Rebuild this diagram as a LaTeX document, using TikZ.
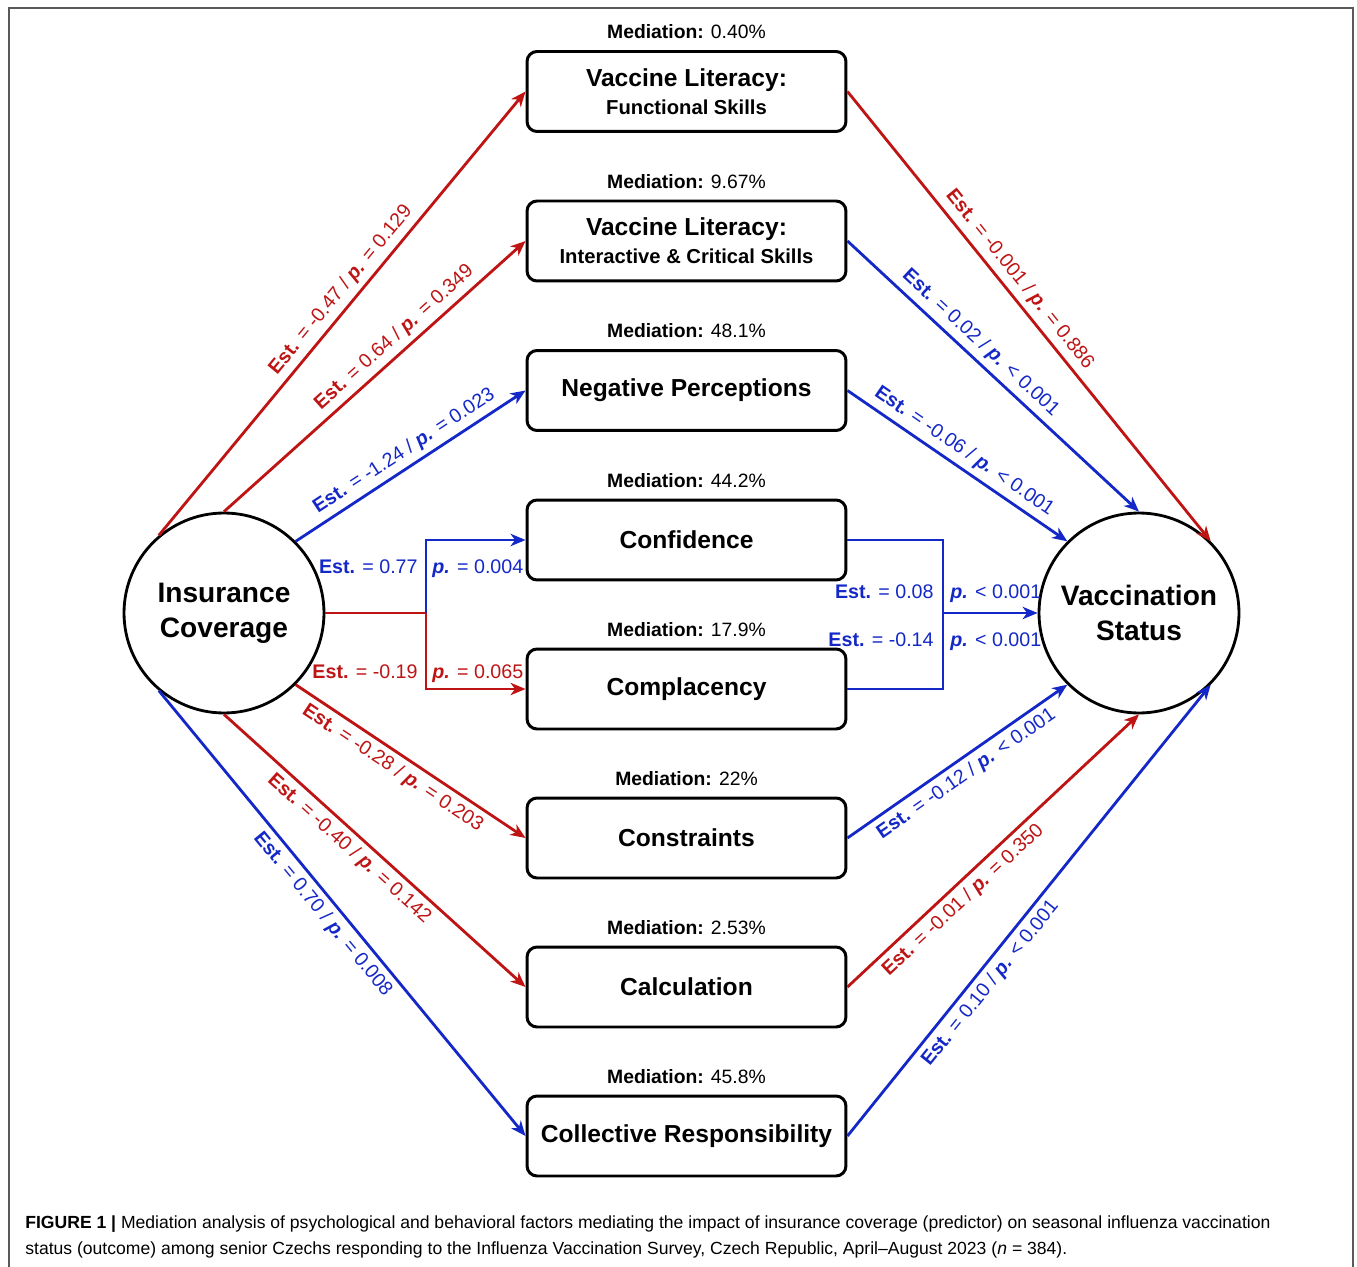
\documentclass[tikz,border=0pt]{standalone}
\usepackage{fontspec}
\setmainfont{Liberation Sans}
\usetikzlibrary{arrows.meta,positioning}

\definecolor{effred}{RGB}{190,20,20}
\definecolor{effblue}{RGB}{20,40,200}

\newcommand{\estp}[2]{\textbf{Est.} = #1 / \textbf{\textit{p.}} #2}
\newcommand{\medlab}[1]{\textbf{Mediation:} #1}

\tikzset{
  factor/.style={draw, line width=1.7pt, rounded corners=0.2cm, minimum width=6.38cm,
    minimum height=1.6cm, inner sep=0pt, align=center,
    font=\fontsize{14pt}{17pt}\selectfont\bfseries},
  var/.style={draw, circle, line width=1.6pt, minimum size=4cm, inner sep=0pt, align=center,
    font=\fontsize{16pt}{20pt}\selectfont\bfseries},
  med/.style={inner sep=0pt, font=\fontsize{11pt}{13pt}\selectfont},
  lab/.style={inner sep=3pt, font=\fontsize{11.2pt}{13pt}\selectfont},
  sig/.style={effblue, line width=1.6pt},
  nonsig/.style={effred, line width=1.6pt},
  tip/.style={-{Stealth[length=8.5pt,width=7pt,inset=2.5pt]}}
}

\begin{document}
\begin{tikzpicture}[x=0.02cm,y=-0.02cm]

  \useasboundingbox (0,0) rectangle (1357,1267);
  \draw[black!65, line width=0.8pt] (9,1267) -- (9,8) -- (1353,8) -- (1353,1267);

  % predictor and outcome
  \node[var] (ic) at (224,613) {Insurance\\Coverage};
  \node[var] (vs) at (1139,613) {Vaccination\\Status};

  % mediators
  \node[factor] (vlf) at (686.5,91.5) {Vaccine Literacy:\\[-1pt]{\fontsize{11.5pt}{14pt}\selectfont Functional Skills}};
  \node[factor] (vli) at (686.5,241) {Vaccine Literacy:\\[-1pt]{\fontsize{11.5pt}{14pt}\selectfont Interactive \& Critical Skills}};
  \node[factor] (neg) at (686.5,390.5) {Negative Perceptions};
  \node[factor] (conf) at (686.5,540) {Confidence};
  \node[factor] (compl) at (686.5,689) {Complacency};
  \node[factor] (constr) at (686.5,838) {Constraints};
  \node[factor] (calc) at (686.5,987) {Calculation};
  \node[factor] (coll) at (686.5,1136) {Collective Responsibility};

  \node[med, above=6pt of vlf] (m1) {\medlab{0.40\%}};
  \node[med, above=6pt of vli] (m2) {\medlab{9.67\%}};
  \node[med, above=6pt of neg] (m3) {\medlab{48.1\%}};
  \node[med, above=6pt of conf] (m4) {\medlab{44.2\%}};
  \node[med, above=6pt of compl] (m5) {\medlab{17.9\%}};
  \node[med, above=6pt of constr] (m6) {\medlab{22\%}};
  \node[med, above=6pt of calc] (m7) {\medlab{2.53\%}};
  \node[med, above=6pt of coll] (m8) {\medlab{45.8\%}};

  % a paths
  \draw[nonsig, tip] (ic.130) -- node[lab, sloped, above, pos=.53] (a1) {\estp{-0.47}{= 0.129}} (vlf.west);
  \draw[nonsig, tip] (ic.north) -- node[lab, sloped, above, pos=.6] (a2) {\estp{0.64}{= 0.349}} (vli.west);
  \draw[sig, tip] (ic.45) -- node[lab, sloped, above, pos=.51] (a3) {\estp{-1.24}{= 0.023}} (neg.west);
  \draw[nonsig, tip] (ic.-45) -- node[lab, sloped, below, pos=.46] (a6) {\estp{-0.28}{= 0.203}} (constr.west);
  \draw[nonsig, tip] (ic.south) -- node[lab, sloped, below, pos=.45] (a7) {\estp{-0.40}{= 0.142}} (calc.west);
  \draw[sig, tip] (ic.-130) -- node[lab, sloped, below, pos=.48] (a8) {\estp{0.70}{= 0.008}} (coll.west);

  \coordinate (jl) at (426,613);
  \draw[nonsig] (ic.east) -- (jl);
  \draw[sig, tip] (jl) |- (conf.west);
  \draw[nonsig, tip] (jl) |- (compl.west);
  \node[lab, effblue, inner sep=0pt, anchor=base east] (a4) at (418,573) {\textbf{Est.} = 0.77};
  \node[lab, effblue, inner sep=0pt, anchor=base west] (a4p) at (432,573) {\textbf{\textit{p.}} = 0.004};
  \node[lab, effred, inner sep=0pt, anchor=base east] (a5) at (418,678) {\textbf{Est.} = -0.19};
  \node[lab, effred, inner sep=0pt, anchor=base west] (a5p) at (432,678) {\textbf{\textit{p.}} = 0.065};

  % b paths
  \draw[nonsig, tip] (vlf.east) -- node[lab, sloped, above, pos=.44] (b1) {\estp{-0.001}{= 0.886}} (vs.45);
  \draw[sig, tip] (vli.east) -- node[lab, sloped, above, pos=.42] (b2) {\estp{0.02}{< 0.001}} (vs.north);
  \draw[sig, tip] (neg.east) -- node[lab, sloped, above, pos=.49] (b3) {\estp{-0.06}{< 0.001}} (vs.135);
  \draw[sig, tip] (constr.east) -- node[lab, sloped, below, pos=.5] (b6) {\estp{-0.12}{< 0.001}} (vs.-135);
  \draw[nonsig, tip] (calc.east) -- node[lab, sloped, below, pos=.36] (b7) {\estp{-0.01}{= 0.350}} (vs.south);
  \draw[sig, tip] (coll.east) -- node[lab, sloped, below, pos=.36] (b8) {\estp{0.10}{< 0.001}} (vs.-45);

  \coordinate (jr) at (943,613);
  \draw[sig] (conf.east) -| (jr);
  \draw[sig] (compl.east) -| (jr);
  \draw[sig, tip] (jr) -- (vs.west);
  \node[lab, effblue, inner sep=0pt, anchor=base east] (b4) at (934,598) {\textbf{Est.} = 0.08};
  \node[lab, effblue, inner sep=0pt, anchor=base west] (b4p) at (950,598) {\textbf{\textit{p.}} < 0.001};
  \node[lab, effblue, inner sep=0pt, anchor=base east] (b5) at (934,646) {\textbf{Est.} = -0.14};
  \node[lab, effblue, inner sep=0pt, anchor=base west] (b5p) at (950,646) {\textbf{\textit{p.}} < 0.001};

  % caption
  \node[anchor=base west, inner sep=0pt, font=\fontsize{10pt}{12pt}\selectfont] (cap1) at (25,1228)
    {\textbf{FIGURE 1 |} Mediation analysis of psychological and behavioral factors mediating the impact of insurance coverage (predictor) on seasonal influenza vaccination};
  \node[anchor=base west, inner sep=0pt, font=\fontsize{10pt}{12pt}\selectfont] (cap2) at (25,1254)
    {status (outcome) among senior Czechs responding to the Influenza Vaccination Survey, Czech Republic, April–August 2023 (\textit{n} = 384).};

\end{tikzpicture}
\end{document}
